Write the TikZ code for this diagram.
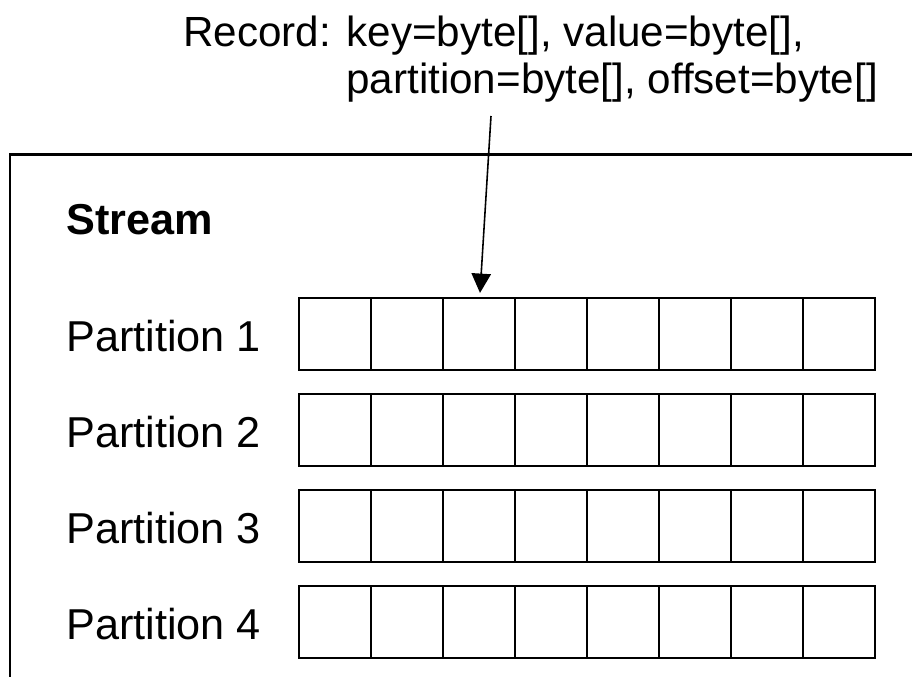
\documentclass[tikz,border=0pt]{standalone}
\usepackage{fontspec}
\setmainfont{Liberation Sans}
\usetikzlibrary{arrows.meta}

\tikzset{
	cell/.style={draw, line width=1.2pt, minimum size=1.44cm, inner sep=0pt},
	lbl/.style={anchor=base west, inner sep=0pt, font=\fontsize{24.6}{29}\selectfont},
	reclbl/.style={anchor=base west, inner sep=0pt, font=\fontsize{24}{28}\selectfont},
	recarrow/.style={line width=0.9pt, -{Triangle[width=11pt, length=11pt]}}
}

\begin{document}
\begin{tikzpicture}
			\clip (0,0) rectangle (18.24,13.54);
			\useasboundingbox (0,0) rectangle (18.24,13.54);
			
			% record description
			\node[reclbl] (rec1) at (3.66,12.6) {Record: key=byte[], value=byte[],};
			\node[reclbl] (rec2) at (6.92,11.66) {partition=byte[], offset=byte[]};
			\coordinate (recfoot) at (9.82,11.22);
			
			% stream frame, cut off at the right and bottom
			\draw[line width=1.2pt] (0.2,-1) rectangle (20,10.45);
			\node[lbl] (stream) at (1.32,8.84) {\bfseries Stream};
			
			\node[lbl] (p1) at (1.32,6.5) {Partition 1};
			\node[lbl] (p2) at (1.32,4.58) {Partition 2};
			\node[lbl] (p3) at (1.32,2.66) {Partition 3};
			\node[lbl] (p4) at (1.32,0.74) {Partition 4};
			
			\foreach \r/\y in {1/6.86, 2/4.94, 3/3.02, 4/1.10}
				\foreach \c in {1,...,8}
					\node[cell] (c\r\c) at ({6.70+1.44*(\c-1)},\y) {};
			
			\draw[recarrow] (recfoot) -- ([xshift=0.02cm, yshift=0.08cm]c13.north);
		\end{tikzpicture}
\end{document}
